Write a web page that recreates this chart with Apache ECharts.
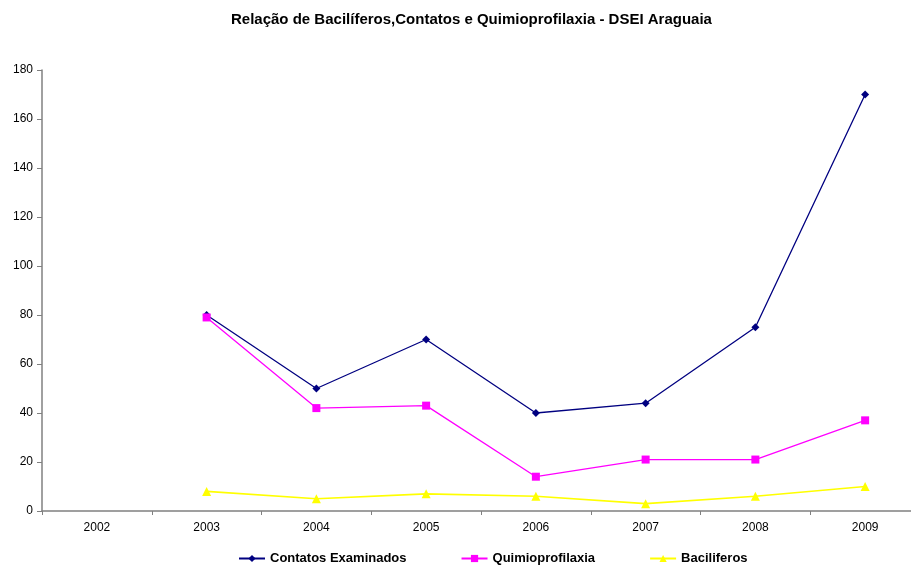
<!DOCTYPE html>
<html>
<head>
<meta charset="utf-8">
<script src="https://cdn.jsdelivr.net/npm/echarts@6/dist/echarts.min.js"></script>
<style>
  html, body { margin: 0; padding: 0; background: #fff; }
  #chart { width: 911px; height: 565px; }
</style>
</head>
<body>
<div id="chart"></div>
<script>
// dados do gráfico
const anos = ['2002', '2003', '2004', '2005', '2006', '2007', '2008', '2009'];
const contatos = [null, 80, 50, 70, 40, 44, 75, 170];
const quimio = [null, 79, 42, 43, 14, 21, 21, 37];
const bacil = [null, 8, 5, 7, 6, 3, 6, 10];

const fonte = 'Liberation Sans, Arial, sans-serif';

const chart = echarts.init(document.getElementById('chart'));
chart.setOption({
    animation: false,
    title: {
        text: 'Relação de Bacilíferos,Contatos e Quimioprofilaxia - DSEI Araguaia',
        left: 226,
        top: 7,
        textStyle: { fontFamily: fonte, fontSize: 15, fontWeight: 'bold', color: '#000' }
    },
    legend: {
        top: 547,
        left: 233,
        itemGap: 54,
        itemWidth: 26,
        itemHeight: 9,
        textStyle: { fontFamily: fonte, fontSize: 13, fontWeight: 'bold', color: '#000' },
        data: ['Contatos Examinados', 'Quimioprofilaxia', 'Baciliferos']
    },
    grid: { left: 42, top: 70, width: 878, height: 441, outerBoundsMode: 'none' },
    xAxis: {
        type: 'category',
        data: anos,
        boundaryGap: true,
        axisLine: { lineStyle: { color: '#808080', width: 1.5 } },
        axisTick: { show: true, length: 4, lineStyle: { color: '#808080' } },
        axisLabel: { fontFamily: fonte, fontSize: 12, color: '#000', margin: 11 },
        splitLine: { show: false }
    },
    yAxis: {
        type: 'value',
        min: 0,
        max: 180,
        interval: 20,
        axisLine: { show: true, lineStyle: { color: '#808080', width: 1.5 } },
        axisTick: { show: true, length: 5, lineStyle: { color: '#808080' } },
        axisLabel: { fontFamily: fonte, fontSize: 12, color: '#000', margin: 9 },
        splitLine: { show: false }
    },
    series: [
        {
            name: 'Contatos Examinados',
            type: 'line',
            data: contatos,
            symbol: 'diamond',
            symbolSize: 8,
            color: '#000080',
            lineStyle: { width: 1.3 }
        },
        {
            name: 'Quimioprofilaxia',
            type: 'line',
            data: quimio,
            symbol: 'rect',
            symbolSize: 8,
            color: '#ff00ff',
            lineStyle: { width: 1.3 }
        },
        {
            name: 'Baciliferos',
            type: 'line',
            data: bacil,
            symbol: 'triangle',
            symbolSize: 9,
            color: '#ffff00',
            lineStyle: { width: 1.6 }
        }
    ]
});
</script>
</body>
</html>
